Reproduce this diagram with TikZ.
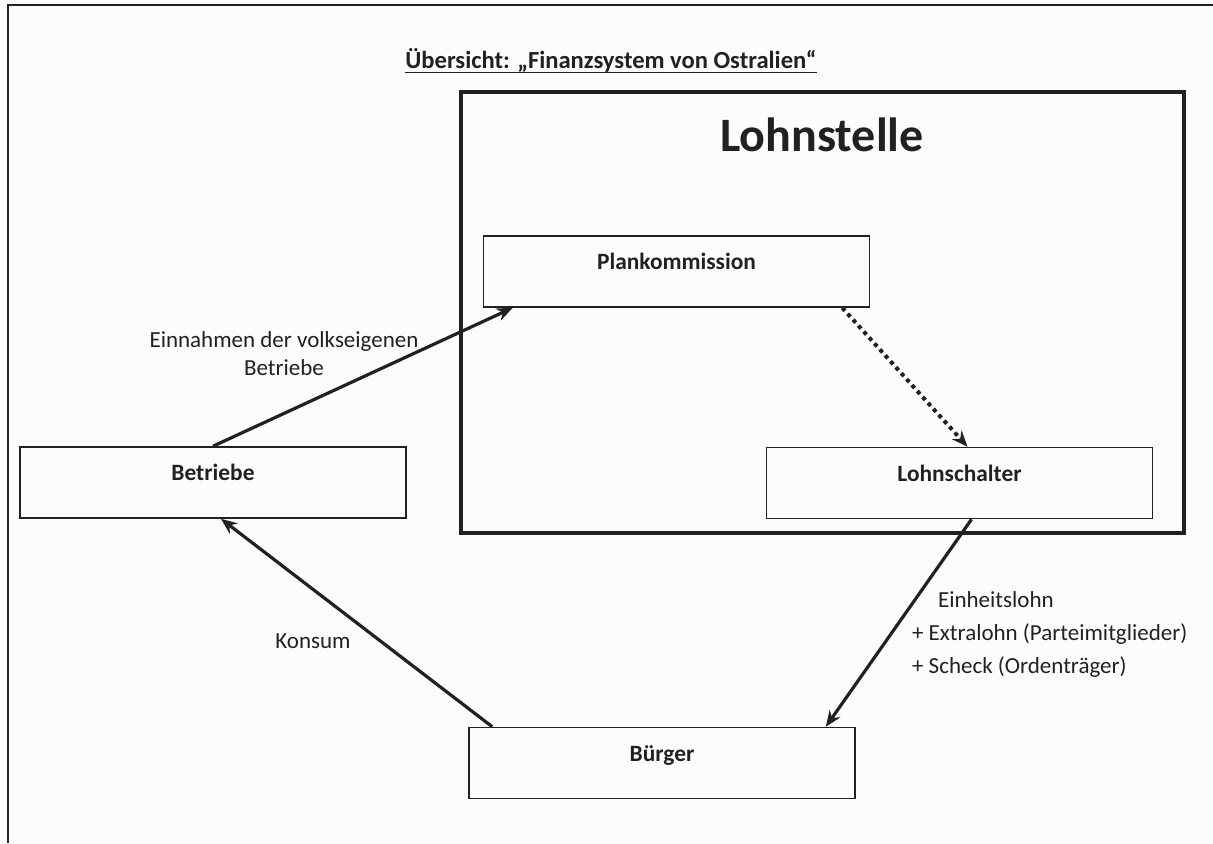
\documentclass[tikz,border=0pt]{standalone}
\usepackage{fontspec}
\setmainfont{Carlito}
\usetikzlibrary{arrows.meta, positioning}
\definecolor{ink}{gray}{0.13}
\definecolor{paper}{gray}{0.99}

\begin{document}
\begin{tikzpicture}[x=0.5pt, y=-0.5pt,
    box/.style={rectangle, draw=ink, line width=0.8pt, minimum width=193pt, minimum height=35.5pt, text height=9pt, text depth=11pt, font=\fontsize{11.7}{14}\selectfont\bfseries, text=ink},
    arrow/.style={-{Stealth[length=8pt, width=6.5pt]}, line width=1.6pt, draw=ink},
    lbl/.style={font=\fontsize{11.5}{14}\selectfont, text=ink, align=center}
]
\fill[paper] (0,0) rectangle (1213,843);
\useasboundingbox (0,0) rectangle (1213,843);

% page frame, only top and left edge visible
\draw[ink, line width=0.9pt] (1213,5) -- (8,5) -- (8,843);

\node[font=\fontsize{12.3}{14}\selectfont\bfseries, text=ink, inner sep=0pt] (title) at (611,60) {Übersicht: „Finanzsystem von Ostralien“};
\draw[ink, line width=0.9pt] ([yshift=-2.2pt]title.base west) -- ([yshift=-2.2pt]title.base east);

% Lohnstelle
\node[draw=ink, line width=2pt, minimum width=361.5pt, minimum height=220.5pt] (lohnstelle) at (822.5,312.5) {};
\node[font=\fontsize{24}{28}\selectfont\bfseries, text=ink] (lohnstelletitel) at (822,135) {Lohnstelle};

\node[box] (plan) at (676.5,271.5) {Plankommission};
\node[box] (schalter) at (959.5,483) {Lohnschalter};

\node[box] (betriebe) at (213,482.5) {Betriebe};
\node[box] (buerger) at (662,763) {Bürger};

\draw[arrow] (betriebe.north) -- ([xshift=15pt]plan.south west);
\draw[arrow, line width=2pt, dash pattern=on 2pt off 2pt] ([xshift=-14pt]plan.south east) -- ([xshift=4pt]schalter.north);
\draw[arrow] ([xshift=6pt]schalter.south) -- ([xshift=-15pt]buerger.north east);
\draw[arrow] ([xshift=12pt]buerger.north west) -- ([xshift=4pt]betriebe.south);

\node[lbl] (einnahmen) at (284,354) {Einnahmen der volkseigenen\\Betriebe};
\node[lbl] (konsum) at (313,641) {Konsum};
\node[lbl, font=\fontsize{11.5}{16.5}\selectfont, align=left, anchor=west] (lohnarten) at (905,634) {\hspace*{13pt}Einheitslohn\\+ Extralohn (Parteimitglieder)\\+ Scheck (Ordenträger)};

\end{tikzpicture}
\end{document}
